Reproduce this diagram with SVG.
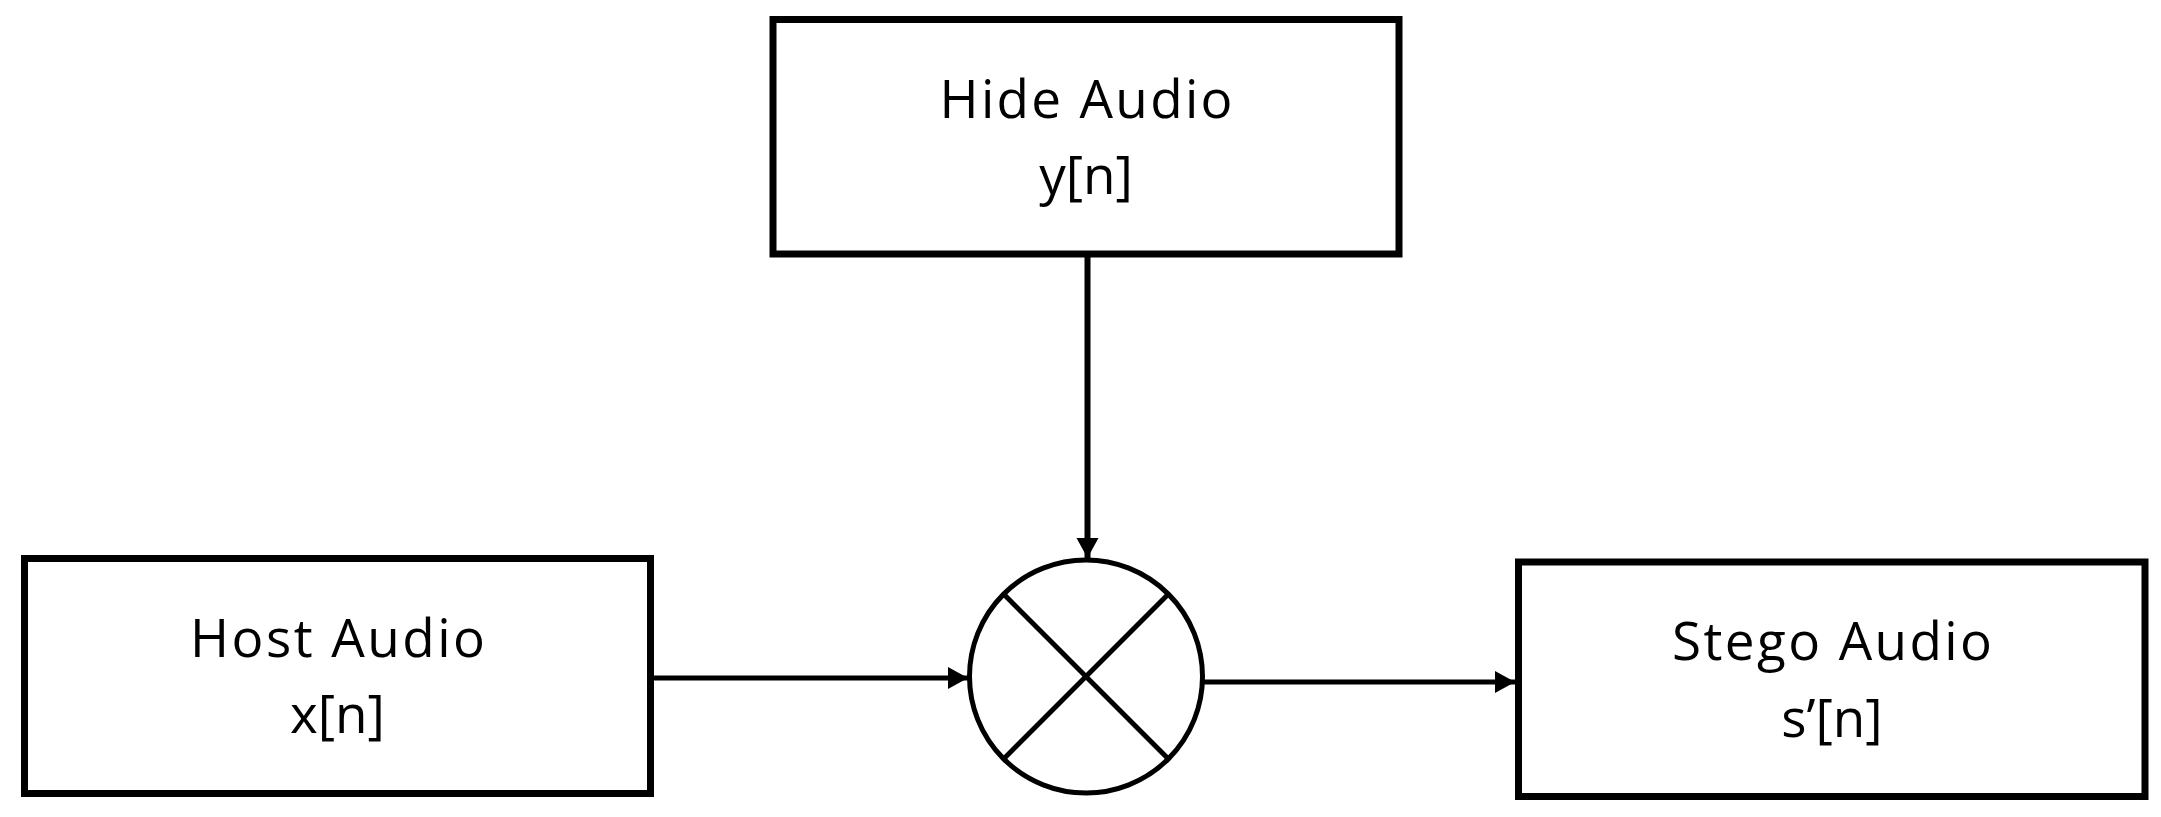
<svg xmlns="http://www.w3.org/2000/svg" width="2161" height="817" viewBox="0 0 2161 817">
  <style>
    .box { fill: #ffffff; stroke: #000000; stroke-width: 7; }
    .lbl { font-family: "Open Sans", "Liberation Sans", sans-serif; font-size: 53px; fill: #000000; text-anchor: middle; }
    .conn { stroke: #000000; stroke-width: 5; fill: none; }
    .sym { stroke: #000000; stroke-width: 5; fill: #ffffff; }
  </style>
  <defs>
    <marker id="arrow" markerUnits="userSpaceOnUse" markerWidth="22" markerHeight="24" refX="20" refY="11" orient="auto">
      <path d="M0,0 L20,11 L0,22 Z" fill="#000000"/>
    </marker>
  </defs>
  <rect width="2161" height="817" fill="#ffffff"/>

  <g id="connectors">
    <line class="conn" x1="1087.5" y1="257" x2="1087.5" y2="558" style="stroke-width:6" marker-end="url(#arrow)"/>
    <line class="conn" x1="654" y1="678" x2="968" y2="678" marker-end="url(#arrow)"/>
    <line class="conn" x1="1203" y1="682" x2="1515" y2="682" marker-end="url(#arrow)"/>
  </g>

  <g id="hide-audio">
    <rect class="box" x="773" y="19.5" width="626" height="234.5"/>
    <text class="lbl" x="1086" y="118" textLength="293" lengthAdjust="spacing">Hide Audio</text>
    <text class="lbl" x="1086" y="194">y[n]</text>
  </g>

  <g id="host-audio">
    <rect class="box" x="24.5" y="558.5" width="626" height="235"/>
    <text class="lbl" x="337.5" y="657" textLength="295" lengthAdjust="spacing">Host Audio</text>
    <text class="lbl" x="337.5" y="733">x[n]</text>
  </g>

  <g id="multiplier">
    <circle class="sym" cx="1086" cy="676.5" r="116.5"/>
    <line class="sym" x1="1003.6" y1="594.1" x2="1168.4" y2="758.9"/>
    <line class="sym" x1="1168.4" y1="594.1" x2="1003.6" y2="758.9"/>
  </g>

  <g id="stego-audio">
    <rect class="box" x="1518.5" y="562" width="626.5" height="234.5"/>
    <text class="lbl" x="1832" y="660" textLength="320" lengthAdjust="spacing">Stego Audio</text>
    <text class="lbl" x="1832" y="737">s’[n]</text>
  </g>
</svg>
